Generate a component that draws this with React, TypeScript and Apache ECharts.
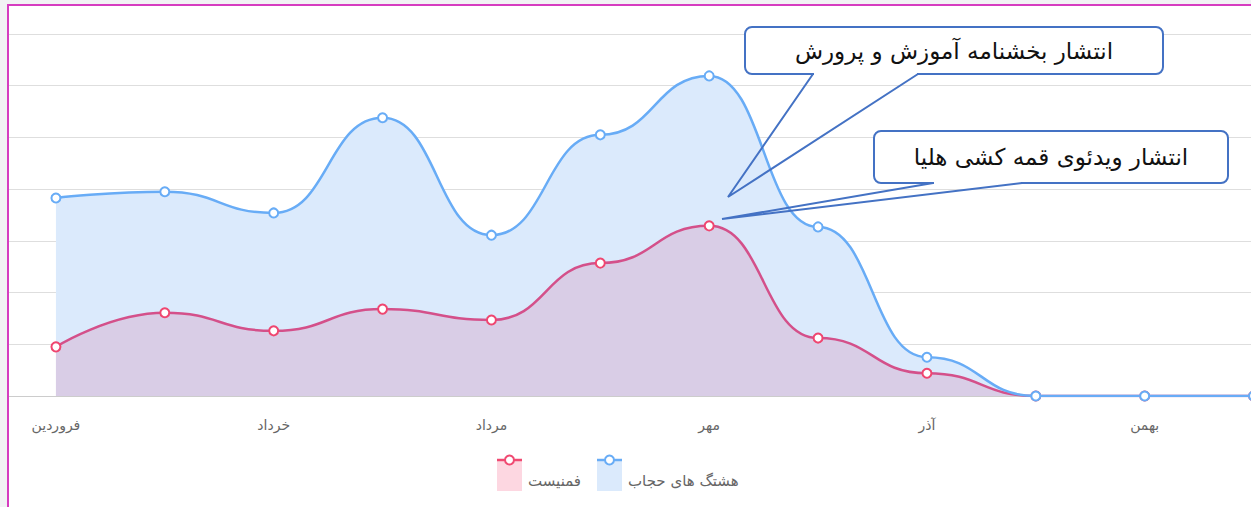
import React, { useEffect, useRef } from "react";
import * as echarts from "echarts";

const months = ["فروردین", "اردیبهشت", "خرداد", "تیر", "مرداد", "شهریور", "مهر", "آبان", "آذر", "دی", "بهمن", "اسفند"];
const hijabHashtag = [38.3, 39.5, 35.4, 53.8, 31.1, 50.5, 61.9, 32.7, 7.5, 0, 0, 0];
const feminist = [9.5, 16.1, 12.6, 16.8, 14.7, 25.7, 32.9, 11.2, 4.4, 0, 0, 0];
const seriesNames = ["هشتگ های حجاب", "فمنیست"];
const notes = ["انتشار بخشنامه آموزش و پرورش", "انتشار ویدئوی قمه کشی هلیا"];

const BLUE = "#68acf6";
const RED_LINE = "#d4508a";
const RED_PT = "#ef4670";
const FONT = "DejaVu Sans, Noto Sans, sans-serif";

function callout(x: number, y: number, w: number, h: number, t1: number, t2: number, tip: [number, number], text: string) {
  const stroke = "#4472c4";
  return [
    { type: "rect", z: 100, shape: { x, y, width: w, height: h, r: 7 }, style: { fill: "#fff", stroke, lineWidth: 2 } },
    { type: "line", z: 101, shape: { x1: t1 + 1, y1: y + h, x2: t2 - 1, y2: y + h }, style: { stroke: "#fff", lineWidth: 3 } },
    { type: "polyline", z: 101, shape: { points: [[t1, y + h], tip, [t2, y + h]] }, style: { stroke, lineWidth: 2, fill: null } },
    { type: "text", z: 102, x: x + w / 2, y: y + h / 2, style: { text, fill: "#111", font: "23px " + FONT, align: "center", verticalAlign: "middle" } },
  ];
}

function legendItem(x: number, fill: string, line: string, label: string) {
  return [
    { type: "rect", z: 50, shape: { x, y: 460, width: 25, height: 31 }, style: { fill } },
    { type: "line", z: 51, shape: { x1: x, y1: 460, x2: x + 25, y2: 460 }, style: { stroke: line, lineWidth: 2.5 } },
    { type: "circle", z: 52, shape: { cx: x + 12.5, cy: 460, r: 4.5 }, style: { fill: "#fff", stroke: line, lineWidth: 2 } },
    { type: "text", z: 52, x: x + 31, y: 481, style: { text: label, fill: "#666", font: "15px " + FONT, align: "left", verticalAlign: "middle" } },
  ];
}

export default function App() {
  const ref = useRef<HTMLDivElement>(null);
  useEffect(() => {
    if (!ref.current) return;
    const chart = echarts.init(ref.current, undefined, { renderer: "svg" });
    chart.setOption({
      animation: false,
      backgroundColor: "#fff",
      grid: { left: 1.5, right: 12, top: 34, bottom: 111 },
      xAxis: {
        type: "category",
        data: months,
        boundaryGap: true,
        axisLine: { lineStyle: { color: "#cccccc" } },
        axisTick: { show: false },
        axisLabel: { color: "#666", fontSize: 14, margin: 22, interval: 1, fontFamily: FONT },
      },
      yAxis: {
        type: "value",
        min: 0,
        max: 70,
        interval: 10,
        axisLabel: { show: false },
        axisLine: { show: false },
        axisTick: { show: false },
        splitLine: { lineStyle: { color: "#dedede", width: 1 } },
      },
      series: [
        {
          name: seriesNames[0] + " area",
          type: "line",
          data: hijabHashtag,
          smooth: 0.5,
          smoothMonotone: "x",
          showSymbol: false,
          lineStyle: { width: 0, opacity: 0 },
          areaStyle: { color: "#dbeafc", opacity: 1 },
          z: 1,
          silent: true,
        },
        {
          name: seriesNames[1],
          type: "line",
          data: feminist,
          smooth: 0.5,
          smoothMonotone: "x",
          symbol: "circle",
          symbolSize: 9,
          itemStyle: { color: "#fff", borderColor: RED_PT, borderWidth: 2 },
          lineStyle: { color: RED_LINE, width: 2.5 },
          areaStyle: { color: "rgba(215,80,140,0.19)", opacity: 1 },
          z: 2,
        },
        {
          name: seriesNames[0],
          type: "line",
          data: hijabHashtag,
          smooth: 0.5,
          smoothMonotone: "x",
          symbol: "circle",
          symbolSize: 9,
          itemStyle: { color: "#fff", borderColor: BLUE, borderWidth: 2 },
          lineStyle: { color: BLUE, width: 2.5 },
          z: 3,
        },
      ],
      graphic: [
        ...legendItem(497, "#fdd7e1", "#f04a72", seriesNames[1]),
        ...legendItem(597, "#dbeafc", BLUE, seriesNames[0]),
        ...callout(745, 27, 418, 47, 813, 918, [728, 197], notes[0]),
        ...callout(874, 131, 354, 52, 933, 1022, [722, 219], notes[1]),
      ],
    });
    return () => chart.dispose();
  }, []);

  return (
    <div style={{ position: "fixed", left: 0, top: 0, width: 1251, height: 507, overflow: "hidden", background: "#fff" }}>
      <div ref={ref} style={{ position: "absolute", left: 0, top: 0, width: 1320, height: 507 }} />
      <div style={{ position: "absolute", left: 0, top: 0, width: 7, height: 507, background: "#f2f2f4", borderRight: "2px solid #d63cc0", zIndex: 5 }} />
      <div style={{ position: "absolute", left: 7, top: 0, width: 1260, height: 4, background: "#f2f2f4", borderBottom: "2px solid #d63cc0", zIndex: 5 }} />
    </div>
  );
}
